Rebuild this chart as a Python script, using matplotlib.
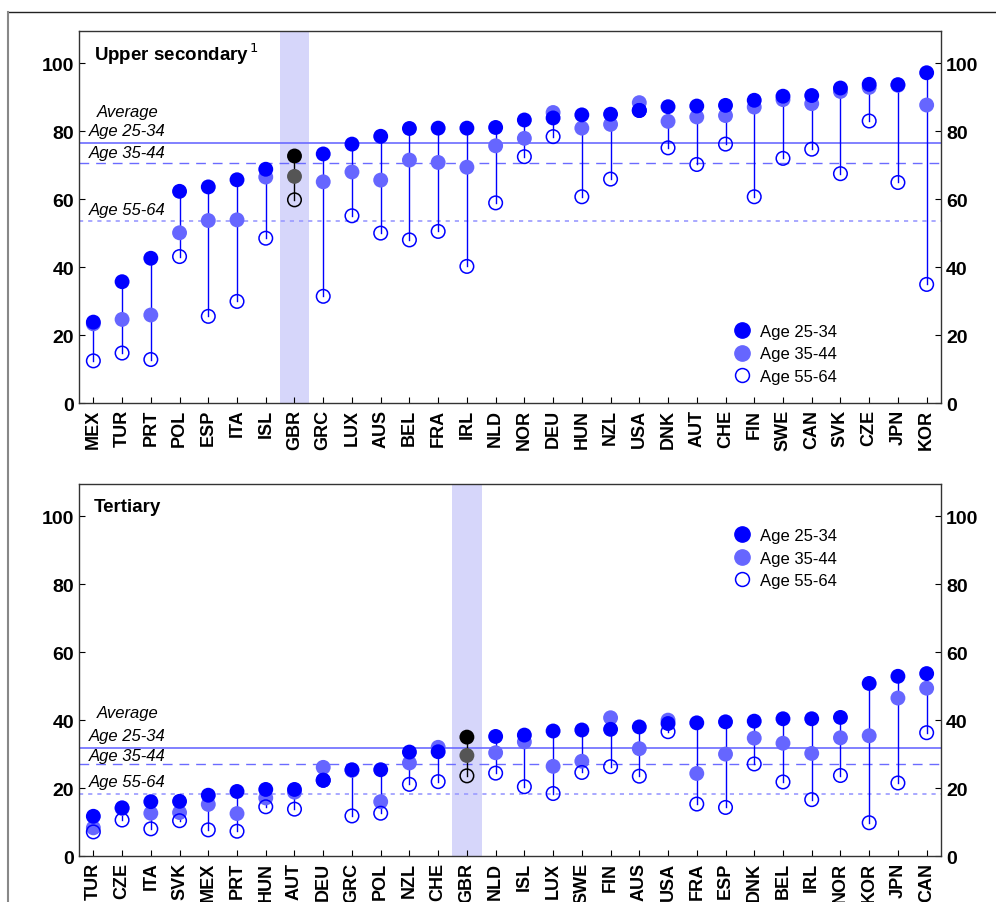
import matplotlib.pyplot as plt
import matplotlib.lines as mlines
import numpy as np

plt.rcParams['font.family'] = ['Liberation Sans', 'DejaVu Sans']

# Upper secondary attainment by age group (%)
upper_countries = ["MEX", "TUR", "PRT", "POL", "ESP", "ITA", "ISL", "GBR", "GRC", "LUX",
                   "AUS", "BEL", "FRA", "IRL", "NLD", "NOR", "DEU", "HUN", "NZL", "USA",
                   "DNK", "AUT", "CHE", "FIN", "SWE", "CAN", "SVK", "CZE", "JPN", "KOR"]
upper_25_34 = [23.8, 35.7, 42.6, 62.3, 63.6, 65.7, 68.8, 72.7, 73.3, 76.2,
               78.5, 80.8, 80.9, 80.9, 81.1, 83.3, 83.9, 84.8, 85.0, 86.1,
               87.2, 87.4, 87.6, 89.1, 90.3, 90.5, 92.7, 93.8, 93.7, 97.2]
upper_35_44 = [23.3, 24.6, 25.9, 50.1, 53.7, 53.9, 66.5, 66.7, 65.1, 68.0,
               65.6, 71.5, 70.8, 69.4, 75.7, 77.9, 85.5, 80.9, 82.0, 88.4,
               82.9, 84.2, 84.6, 87.1, 89.3, 88.1, 91.7, 92.9, 93.5, 87.7]
upper_55_64 = [12.4, 14.7, 12.8, 43.1, 25.5, 29.9, 48.5, 59.8, 31.4, 55.1,
               50.0, 48.0, 50.5, 40.2, 58.9, 72.5, 78.4, 60.7, 65.9, 86.1,
               75.1, 70.2, 76.2, 60.7, 72.0, 74.7, 67.5, 83.0, 64.9, 34.9]
upper_avg = [76.6, 70.7, 53.6]

# Tertiary attainment by age group (%)
tert_countries = ["TUR", "CZE", "ITA", "SVK", "MEX", "PRT", "HUN", "AUT", "DEU", "GRC",
                  "POL", "NZL", "CHE", "GBR", "NLD", "ISL", "LUX", "SWE", "FIN", "AUS",
                  "USA", "FRA", "ESP", "DNK", "BEL", "IRL", "NOR", "KOR", "JPN", "CAN"]
tert_25_34 = [11.7, 14.2, 16.0, 16.1, 17.9, 19.0, 19.6, 19.6, 22.3, 25.4,
              25.4, 30.6, 30.7, 35.0, 35.2, 35.6, 36.8, 37.1, 37.3, 38.0,
              39.0, 39.2, 39.5, 39.7, 40.4, 40.4, 40.8, 50.8, 52.9, 53.7]
tert_35_44 = [8.3, 14.0, 12.6, 12.8, 15.2, 12.5, 17.1, 18.8, 26.1, 25.2,
              16.0, 27.4, 32.0, 29.6, 30.4, 33.6, 26.4, 27.9, 40.7, 31.6,
              40.0, 24.3, 30.0, 34.7, 33.2, 30.2, 34.8, 35.4, 46.5, 49.4]
tert_55_64 = [7.1, 10.6, 8.0, 10.4, 7.7, 7.3, 14.5, 13.8, 22.3, 11.8,
              12.6, 21.1, 21.9, 23.6, 24.4, 20.4, 18.4, 24.6, 26.3, 23.5,
              36.6, 15.3, 14.3, 27.1, 21.8, 16.6, 23.7, 9.8, 21.5, 36.3]
tert_avg = [31.9, 27.0, 18.3]

DARK = "#0000ff"
MID = "#6666ff"


def draw_panel(ax, countries, v1, v2, v3, avg, title, avg_label_y, legend_y):
    x = np.arange(len(countries))
    hi = countries.index("GBR")
    ax.axvspan(hi - 0.52, hi + 0.52, color="#d6d6fa", lw=0, zorder=0)

    # average lines
    ax.axhline(avg[0], color="#6b6bff", lw=1.2, zorder=1)
    ax.axhline(avg[1], color="#6b6bff", lw=1.0, dashes=(7, 5), zorder=1)
    ax.axhline(avg[2], color="#9a9aff", lw=1.2, dashes=(2.5, 3), zorder=1)

    for i in x:
        c = "black" if i == hi else DARK
        lo_v = min(v1[i], v2[i], v3[i])
        hi_v = max(v1[i], v2[i], v3[i])
        ax.plot([i, i], [lo_v, hi_v], color=c, lw=1, zorder=2)

    cols_mid = ["#555555" if i == hi else MID for i in x]
    cols_dark = ["black" if i == hi else DARK for i in x]
    ax.scatter(x, v2, s=115, color=cols_mid, lw=0, zorder=3)
    ax.scatter(x, v3, s=95, facecolors="none", edgecolors=cols_dark, lw=1.1, zorder=4)
    ax.scatter(x, v1, s=115, color=cols_dark, lw=0, zorder=5)

    ax.set_xlim(-0.5, len(countries) - 0.5)
    ax.set_ylim(0, 109.5)
    ax.set_yticks([0, 20, 40, 60, 80, 100])
    ax.set_xticks(x)
    ax.set_xticklabels(countries, rotation=90, fontsize=13, fontweight="bold")
    ax.tick_params(axis="y", direction="in", left=True, right=True,
                   labelleft=True, labelright=True, labelsize=14, length=4)
    ax.tick_params(axis="x", direction="in", length=4, pad=4)
    for t in ax.yaxis.get_major_ticks():
        t.label1.set_fontweight("bold")
        t.label2.set_fontweight("bold")
    for sp in ax.spines.values():
        sp.set_color("#333333")
        sp.set_linewidth(1)

    ax.text(0.017, 0.94, title, transform=ax.transAxes, fontsize=13.5,
            fontweight="bold", va="center", ha="left")

    # average labels
    ax.text(0.021, avg_label_y[0], "Average", fontsize=12, style="italic",
            transform=ax.get_yaxis_transform(), va="center")
    for lab, yv in zip(["Age 25-34", "Age 35-44", "Age 55-64"], avg_label_y[1:]):
        ax.text(0.011, yv, lab, fontsize=12, style="italic",
                transform=ax.get_yaxis_transform(), va="center")

    handles = [
        mlines.Line2D([], [], ls="none", marker="o", ms=11, mfc=DARK, mec=DARK),
        mlines.Line2D([], [], ls="none", marker="o", ms=11, mfc=MID, mec=MID),
        mlines.Line2D([], [], ls="none", marker="o", ms=10, mfc="none", mec=DARK, mew=1.1),
    ]
    ax.legend(handles, ["Age 25-34", "Age 35-44", "Age 55-64"], loc="center left",
              bbox_to_anchor=(0.76, legend_y), frameon=False, fontsize=12,
              handlelength=1.0, handletextpad=0.55, labelspacing=0.45,
              borderpad=0, borderaxespad=0)


fig = plt.figure(figsize=(9.96, 9.03), dpi=100)
ax1 = fig.add_axes([0.0793, 0.5526, 0.8655, 0.412])
ax2 = fig.add_axes([0.0793, 0.0509, 0.8655, 0.412])

draw_panel(ax1, upper_countries, upper_25_34, upper_35_44, upper_55_64, upper_avg,
           "Upper secondary$^{\\,1}$", [85.9, 80.3, 73.8, 57.0], 0.132)
draw_panel(ax2, tert_countries, tert_25_34, tert_35_44, tert_55_64, tert_avg,
           "Tertiary", [42.2, 35.4, 29.5, 21.8], 0.801)

# outer frame (partly cropped in the original)
fig.add_artist(mlines.Line2D([8 / 996, 1.0], [1 - 13 / 903] * 2, color="#222222", lw=1,
                             transform=fig.transFigure))
fig.add_artist(mlines.Line2D([8 / 996] * 2, [0, 1 - 13 / 903], color="#888888", lw=1.5,
                             transform=fig.transFigure))

fig.savefig("out.png", dpi=100)
